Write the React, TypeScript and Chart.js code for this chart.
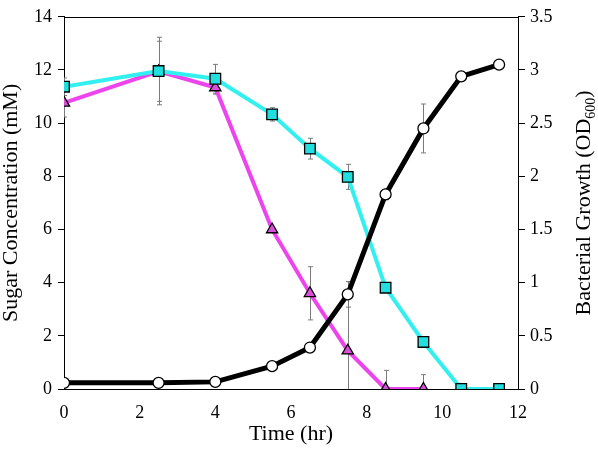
import React, { useEffect, useRef } from "react";
import { Chart, registerables } from "chart.js";

Chart.register(...registerables);

const times = [0, 2.5, 4, 5.5, 6.5, 7.5, 8.5, 9.5, 10.5, 11.5];
const sugarCyan = [11.37, 11.96, 11.67, 10.33, 9.04, 7.98, 3.81, 1.77, 0, 0];
const sugarCyanErr = [0.33, 1.27, 0.54, 0.25, 0.39, 0.47, 0, 0, 0, 0];
const sugarMagenta = [10.76, 11.95, 11.34, 6.0, 3.6, 1.44, 0, 0, null, null];
const sugarMagentaErr = [0.53, 1.13, 0.25, 0, 1.0, 2.6, 0.7, 0.54, null, null];
const growth = [0.058, 0.058, 0.067, 0.215, 0.39, 0.89, 1.83, 2.45, 2.94, 3.05];
const growthErr = [0, 0, 0, 0.02, 0.03, 0.12, 0.05, 0.23, 0.04, 0.03];

const xTicks = [0, 2, 4, 6, 8, 10, 12];
const leftTicks = [0, 2, 4, 6, 8, 10, 12, 14];
const rightTicks = [0, 0.5, 1, 1.5, 2, 2.5, 3, 3.5];

const FONT = "'Liberation Serif', 'Times New Roman', serif";

const toPoints = (vals: (number | null)[]) =>
  times.map((t, i) => ({ x: t, y: vals[i] as any }));

const errorBars = {
  id: "errorBars",
  beforeDatasetsDraw(chart: any) {
    const ctx = chart.ctx;
    const area = chart.chartArea;
    ctx.save();
    ctx.beginPath();
    ctx.rect(area.left, area.top - 20, area.right - area.left, area.bottom - area.top + 20);
    ctx.clip();
    ctx.strokeStyle = "#7a7a7a";
    ctx.lineWidth = 1;
    chart.data.datasets.forEach((ds: any) => {
      const errs = ds.errors as (number | null)[];
      if (!errs) return;
      const ys = chart.scales[ds.yAxisID];
      const xs = chart.scales.x;
      ds.data.forEach((p: any, i: number) => {
        const e = errs[i];
        if (p.y == null || !e) return;
        const px = Math.round(xs.getPixelForValue(p.x)) + 0.5;
        const top = ys.getPixelForValue(p.y + e);
        const bot = ys.getPixelForValue(p.y - e);
        ctx.beginPath();
        ctx.moveTo(px, top);
        ctx.lineTo(px, bot);
        ctx.moveTo(px - 2.5, top);
        ctx.lineTo(px + 2.5, top);
        ctx.moveTo(px - 2.5, bot);
        ctx.lineTo(px + 2.5, bot);
        ctx.stroke();
      });
    });
    ctx.restore();
  },
};

const frame = {
  id: "frame",
  afterDraw(chart: any) {
    const ctx = chart.ctx;
    const a = chart.chartArea;
    ctx.save();
    ctx.strokeStyle = "#000";
    ctx.lineWidth = 1;
    ctx.beginPath();
    ctx.moveTo(a.left, Math.round(a.top) + 0.5);
    ctx.lineTo(a.right, Math.round(a.top) + 0.5);
    ctx.stroke();
    // right axis title with subscript
    const main = "Bacterial Growth (OD";
    const sub = "600";
    const end = ")";
    ctx.fillStyle = "#000";
    ctx.textBaseline = "alphabetic";
    ctx.font = `22px ${FONT}`;
    const w1 = ctx.measureText(main).width;
    const w3 = ctx.measureText(end).width;
    ctx.font = `14px ${FONT}`;
    const w2 = ctx.measureText(sub).width;
    const total = w1 + w2 + w3;
    const cy = (a.top + a.bottom) / 2;
    ctx.translate(590, cy);
    ctx.rotate(-Math.PI / 2);
    let x = -total / 2;
    ctx.font = `22px ${FONT}`;
    ctx.textAlign = "left";
    ctx.fillText(main, x, 0);
    x += w1;
    ctx.font = `14px ${FONT}`;
    ctx.fillText(sub, x, 5);
    x += w2;
    ctx.font = `22px ${FONT}`;
    ctx.fillText(end, x, 0);
    ctx.restore();
  },
};

export default function App() {
  const ref = useRef<HTMLCanvasElement | null>(null);
  useEffect(() => {
    if (!ref.current) return;
    const chart = new Chart(ref.current, {
      type: "line",
      data: {
        datasets: [
          {
            label: "Bacterial growth",
            data: toPoints(growth),
            yAxisID: "y1",
            borderColor: "#000",
            borderWidth: 5,
            pointStyle: "circle",
            pointRadius: 5.5,
            pointBorderWidth: 1.3,
            pointBackgroundColor: "#fff",
            pointBorderColor: "#000",
            tension: 0,
            errors: growthErr,
          } as any,
          {
            label: "Sugar A",
            data: toPoints(sugarCyan),
            yAxisID: "y",
            borderColor: "#33f0f0",
            borderWidth: 4,
            pointStyle: "rect",
            pointRadius: 7.5,
            pointBorderWidth: 1.3,
            pointBackgroundColor: "#22dede",
            pointBorderColor: "#000",
            tension: 0,
            errors: sugarCyanErr,
          } as any,
          {
            label: "Sugar B",
            data: toPoints(sugarMagenta),
            yAxisID: "y",
            borderColor: "#ee44ee",
            borderWidth: 4,
            pointStyle: "triangle",
            pointRadius: 6.5,
            pointBorderWidth: 1.3,
            pointBackgroundColor: "#d850d8",
            pointBorderColor: "#000",
            tension: 0,
            errors: sugarMagentaErr,
          } as any,
        ],
      },
      options: {
        animation: false,
        responsive: false,
        events: [],
        layout: { padding: { top: 9, left: 0, right: 0, bottom: 0 } },
        plugins: { legend: { display: false }, tooltip: { enabled: false } },
        scales: {
          x: {
            type: "linear",
            min: 0,
            max: 12,
            afterFit: (s: any) => {
              s.height = 62;
            },
            afterBuildTicks: (s: any) => {
              s.ticks = xTicks.map((v) => ({ value: v }));
            },
            grid: { display: false, drawTicks: false, tickLength: 0 },
            border: { display: true, color: "#000", width: 1 },
            ticks: {
              color: "#000",
              font: { family: FONT, size: 18 },
              padding: 13,
              maxRotation: 0,
              autoSkip: false,
              callback: (v: any) => String(v),
            },
            title: {
              display: true,
              text: "Time (hr)",
              color: "#000",
              font: { family: FONT, size: 22 },
              padding: { top: 0, bottom: 4 },
            },
          },
          y: {
            type: "linear",
            position: "left",
            min: 0,
            max: 14,
            afterFit: (s: any) => {
              s.width = 64;
            },
            afterBuildTicks: (s: any) => {
              s.ticks = leftTicks.map((v) => ({ value: v }));
            },
            grid: {
              display: true,
              drawOnChartArea: false,
              drawTicks: true,
              tickLength: 6,
              color: "#000",
            },
            border: { display: true, color: "#000", width: 1 },
            ticks: {
              color: "#000",
              font: { family: FONT, size: 18 },
              padding: 6,
              autoSkip: false,
              callback: (v: any) => String(v),
            },
            title: {
              display: true,
              text: "Sugar Concentration (mM)",
              color: "#000",
              font: { family: FONT, size: 22 },
              padding: { top: -2, bottom: 0 },
            },
          },
          y1: {
            type: "linear",
            position: "right",
            min: 0,
            max: 3.5,
            afterFit: (s: any) => {
              s.width = 80;
            },
            afterBuildTicks: (s: any) => {
              s.ticks = rightTicks.map((v) => ({ value: v }));
            },
            grid: {
              display: true,
              drawOnChartArea: false,
              drawTicks: true,
              tickLength: 7,
              color: "#000",
            },
            border: { display: true, color: "#000", width: 1 },
            ticks: {
              color: "#000",
              font: { family: FONT, size: 18 },
              padding: 5,
              autoSkip: false,
              callback: (v: any) => String(v),
            },
          },
        },
      } as any,
      plugins: [errorBars, frame],
    });
    return () => chart.destroy();
  }, []);
  return (
    <div style={{ position: "absolute", left: 0, top: 0, width: 598, height: 451, background: "#fff" }}>
      <canvas ref={ref} width={598} height={451} style={{ display: "block" }} />
    </div>
  );
}
